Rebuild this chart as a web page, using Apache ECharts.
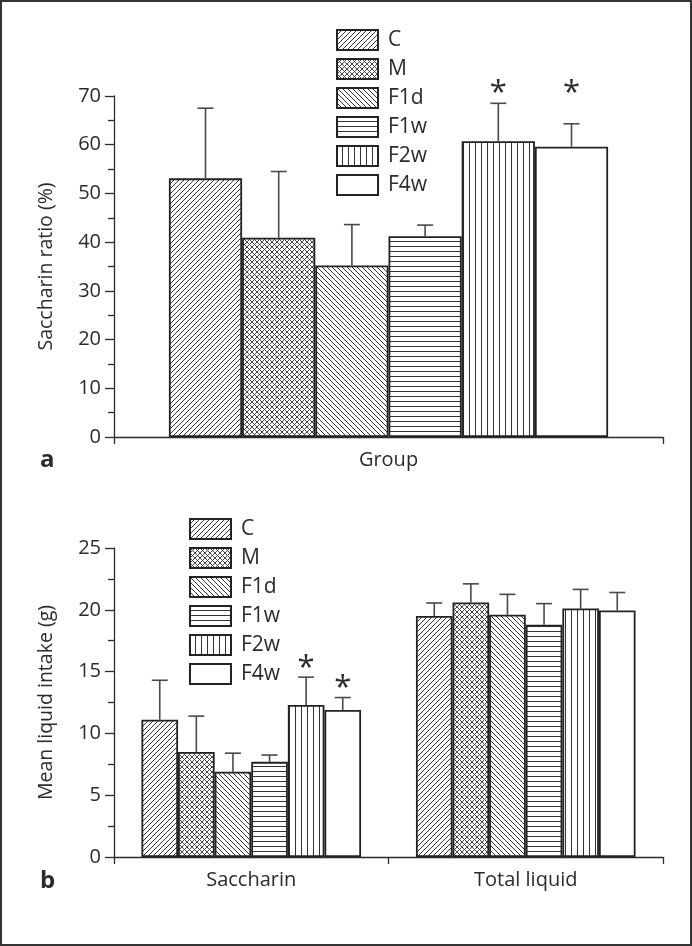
<!DOCTYPE html>
<html>
<head>
<meta charset="utf-8">
<script src="https://cdn.jsdelivr.net/npm/echarts@6.0.0/dist/echarts.min.js"></script>
<style>
  html, body { margin: 0; padding: 0; background: #fff; }
  #chart { width: 692px; height: 946px; box-sizing: border-box; border: 2px solid #333; }
</style>
</head>
<body>
<div id="chart"></div>
<script>
// groups (legend + series)
const groups = ['C', 'M', 'F1d', 'F1w', 'F2w', 'F4w'];

// panel a: saccharin ratio (%)
const ratioMean = [53.1, 40.9, 35.2, 41.2, 60.7, 59.6];
const ratioSD = [14.4, 13.6, 8.4, 2.3, 7.8, 4.7];
const ratioStar = [0, 0, 0, 0, 71.0, 71.0];   // asterisk level, 0 = none

// panel b: mean liquid intake (g)
const intakeCats = ['Saccharin', 'Total liquid'];
const saccharinMean = [11.1, 8.5, 6.9, 7.7, 12.3, 11.9];
const saccharinSD = [3.2, 2.9, 1.5, 0.55, 2.25, 1.0];
const saccharinStar = [0, 0, 0, 0, 15.4, 13.8];
const totalMean = [19.5, 20.6, 19.6, 18.8, 20.1, 19.95];
const totalSD = [1.05, 1.5, 1.65, 1.7, 1.55, 1.45];

// fill patterns, one per group
function pattern(kind) {
  const s = kind === 'v' ? 6 : 5;
  const cv = document.createElement('canvas');
  cv.width = s; cv.height = s;
  const ctx = cv.getContext('2d');
  ctx.fillStyle = '#fff';
  ctx.fillRect(0, 0, s, s);
  ctx.strokeStyle = '#333';
  ctx.lineWidth = 1;
  const line = (x1, y1, x2, y2) => { ctx.beginPath(); ctx.moveTo(x1, y1); ctx.lineTo(x2, y2); ctx.stroke(); };
  const up = () => { line(-1, s + 1, s + 1, -1); line(-1, 1, 1, -1); line(s - 1, s + 1, s + 1, s - 1); };
  const down = () => { line(-1, -1, s + 1, s + 1); line(s - 1, -1, s + 1, 1); line(-1, s - 1, 1, s + 1); };
  if (kind === 'up') up();
  if (kind === 'down') down();
  if (kind === 'cross') { ctx.lineWidth = 0.9; up(); down(); }
  if (kind === 'h') line(0, s - 0.5, s, s - 0.5);
  if (kind === 'v') line(s - 0.5, 0, s - 0.5, s);
  return { image: cv, repeat: 'repeat' };
}
const fills = [pattern('up'), pattern('cross'), pattern('down'), pattern('h'), pattern('v'), '#fff'];

const font = 'Open Sans';
const ink = '#2b2b2b';

function errRender(params, api) {
  const cat = api.value(0), k = api.value(1);
  const band = api.size([1, 0])[0];
  const w = band * 0.8 / 6;
  const base = api.coord([cat, api.value(2)]);
  const top = api.coord([cat, api.value(2) + api.value(3)]);
  const x = base[0] - band * 0.4 + w * (k + 0.5);
  const st = { stroke: '#4a4a4a', lineWidth: 1.6 };
  const children = [
    { type: 'line', shape: { x1: x, y1: base[1], x2: x, y2: top[1] }, style: st },
    { type: 'line', shape: { x1: x - 8, y1: top[1], x2: x + 8, y2: top[1] }, style: st }
  ];
  const star = api.value(4);
  if (star > 0) {
    const sp = api.coord([cat, star]);
    children.push({
      type: 'text',
      style: { text: '*', x: x, y: sp[1] + 2, fontSize: 31, fontFamily: font, fill: ink, align: 'center', verticalAlign: 'middle' }
    });
  }
  return { type: 'group', children: children };
}

const errA = groups.map((g, k) => [0, k, ratioMean[k], ratioSD[k], ratioStar[k]]);
const errB = [];
groups.forEach((g, k) => {
  errB.push([0, k, saccharinMean[k], saccharinSD[k], saccharinStar[k]]);
  errB.push([1, k, totalMean[k], totalSD[k], 0]);
});

const axisLine = { lineStyle: { color: ink, width: 1.3 } };
function yAxis(gridIndex, max, interval, name) {
  return {
    type: 'value', gridIndex: gridIndex, min: 0, max: max, interval: interval,
    name: name, nameLocation: 'middle', nameRotate: 90, nameGap: 58,
    nameTextStyle: { fontFamily: font, fontSize: 19.5, color: ink },
    axisLine: { show: true, lineStyle: { color: ink, width: 1.3 } },
    axisTick: { show: true, length: 9, lineStyle: { color: ink, width: 1.3 } },
    minorTick: { show: true, splitNumber: 2, length: 6, lineStyle: { color: ink, width: 1.3 } },
    splitLine: { show: false },
    axisLabel: { fontFamily: font, fontSize: 20, color: ink, margin: 13 }
  };
}
function xAxis(gridIndex, data) {
  return {
    type: 'category', gridIndex: gridIndex, data: data,
    axisLine: axisLine,
    axisTick: { show: true, length: 7, lineStyle: { color: ink, width: 1.3 } },
    axisLabel: { fontFamily: font, fontSize: 20, color: ink, margin: 13 }
  };
}
function legend(left, top) {
  return {
    data: groups, orient: 'vertical', left: left, top: top,
    itemWidth: 41, itemHeight: 20, itemGap: 7, icon: 'rect',
    textStyle: { fontFamily: font, fontSize: 21, color: ink, padding: [0, 0, 0, 5] },
    selectedMode: false
  };
}

const series = [];
groups.forEach((g, k) => {
  const itemStyle = { color: fills[k], borderColor: '#222', borderWidth: 1.8 };
  series.push({ name: g, type: 'bar', xAxisIndex: 0, yAxisIndex: 0, data: [ratioMean[k]],
    barGap: 0, barCategoryGap: '20%', itemStyle: itemStyle, animation: false });
  series.push({ name: g, type: 'bar', xAxisIndex: 1, yAxisIndex: 1, data: [saccharinMean[k], totalMean[k]],
    barGap: 0, barCategoryGap: '20%', itemStyle: itemStyle, animation: false });
});
series.push({ name: 'errA', type: 'custom', xAxisIndex: 0, yAxisIndex: 0, renderItem: errRender, data: errA, z: 5, animation: false });
series.push({ name: 'errB', type: 'custom', xAxisIndex: 1, yAxisIndex: 1, renderItem: errRender, data: errB, z: 5, animation: false });

const chart = echarts.init(document.getElementById('chart'));
chart.setOption({
  animation: false,
  backgroundColor: '#fff',
  grid: [
    { left: 112, right: 27, top: 94, bottom: 507, outerBoundsMode: 'none' },
    { left: 112, right: 27, top: 546, bottom: 87, outerBoundsMode: 'none' }
  ],
  xAxis: [xAxis(0, ['Group']), xAxis(1, intakeCats)],
  yAxis: [yAxis(0, 70, 10, 'Saccharin ratio (%)'), yAxis(1, 25, 5, 'Mean liquid intake (g)')],
  legend: [legend(329, 22), legend(182, 511)],
  graphic: [
    { type: 'text', left: 38, top: 446, style: { text: 'a', fontFamily: font, fontSize: 24, fontWeight: 'bold', fill: ink } },
    { type: 'text', left: 38, top: 867, style: { text: 'b', fontFamily: font, fontSize: 24, fontWeight: 'bold', fill: ink } }
  ],
  series: series
});
</script>
</body>
</html>
